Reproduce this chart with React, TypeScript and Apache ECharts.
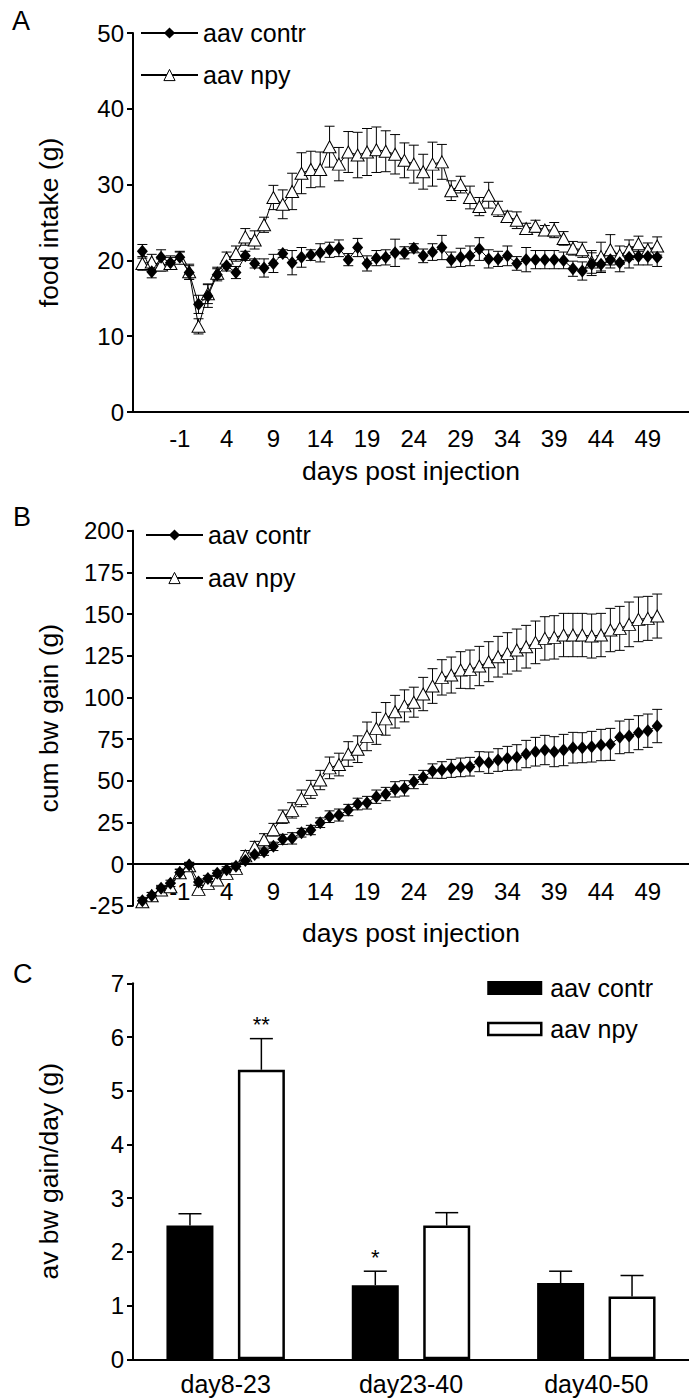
import React, { useEffect, useRef } from 'react';
import * as echarts from 'echarts';

// ---------- data ----------
const days = [-5, -4, -3, -2, -1, 0, 1, 2, 3, 4, 5, 6, 7, 8, 9, 10, 11, 12, 13, 14, 15, 16, 17, 18, 19, 20, 21, 22, 23, 24, 25, 26, 27, 28, 29, 30, 31, 32, 33, 34, 35, 36, 37, 38, 39, 40, 41, 42, 43, 44, 45, 46, 47, 48, 49, 50];
const xTickLabels = [-1, 4, 9, 14, 19, 24, 29, 34, 39, 44, 49];

// Panel A: food intake (g)
const foodContr = [21.2, 18.5, 20.4, 19.7, 20.4, 18.4, 14.2, 15.3, 18.1, 19.3, 18.4, 20.6, 19.6, 19.0, 19.6, 20.9, 19.7, 20.4, 20.7, 21.0, 21.4, 21.6, 20.1, 21.7, 19.6, 20.3, 20.4, 21.0, 21.0, 21.6, 20.6, 21.1, 21.7, 20.1, 20.4, 20.6, 21.5, 20.2, 20.2, 20.6, 19.6, 20.1, 20.1, 20.1, 20.1, 20.0, 18.9, 18.6, 19.5, 19.5, 20.1, 19.7, 20.4, 20.5, 20.5, 20.4];
const foodContrSem = [0.9, 0.8, 1.0, 0.9, 0.8, 0.9, 1.2, 1.5, 0.8, 0.7, 0.8, 0.6, 0.6, 1.2, 1.2, 0.5, 1.6, 1.3, 0.7, 1.2, 1.0, 1.1, 0.8, 1.2, 1.0, 1.0, 1.0, 1.8, 0.8, 0.6, 0.9, 1.1, 1.6, 1.0, 1.2, 1.3, 1.5, 1.2, 1.0, 1.3, 0.9, 1.6, 1.2, 1.2, 1.2, 1.1, 1.0, 1.2, 1.5, 1.1, 1.1, 1.2, 1.4, 1.1, 1.1, 1.2];
const foodNpy = [19.6, 19.8, 19.4, 19.6, 20.3, 18.5, 11.3, 15.6, 18.3, 20.3, 20.9, 23.1, 22.7, 24.7, 28.3, 27.4, 29.1, 31.5, 32.0, 32.0, 35.0, 32.7, 34.3, 33.9, 34.3, 34.6, 34.4, 34.0, 33.2, 32.7, 31.7, 32.7, 33.0, 29.2, 30.0, 28.3, 27.1, 28.6, 26.8, 25.8, 25.3, 24.2, 24.5, 24.0, 24.0, 22.9, 21.6, 21.4, 19.8, 20.5, 21.4, 20.7, 21.4, 22.2, 21.4, 21.9];
const foodNpySem = [0.9, 1.0, 0.8, 0.8, 0.8, 1.0, 1.0, 1.3, 0.8, 0.8, 1.0, 1.1, 1.2, 1.0, 1.6, 1.9, 2.4, 2.7, 2.4, 2.3, 2.7, 2.2, 2.7, 3.0, 3.1, 3.0, 2.7, 2.6, 2.3, 2.5, 2.3, 2.9, 2.3, 1.3, 1.1, 1.5, 1.2, 1.7, 1.0, 0.7, 1.1, 0.7, 0.8, 0.6, 1.0, 0.9, 0.9, 1.0, 1.5, 1.9, 2.0, 1.2, 1.3, 1.0, 0.9, 1.2];

// Panel B: cumulative body weight gain (g)
const gainContr = [-22.0, -18.9, -14.6, -11.6, -5.1, -0.6, -10.8, -8.7, -5.6, -3.4, -1.4, 2.1, 5.7, 7.4, 10.6, 14.8, 15.4, 18.8, 20.4, 24.8, 28.4, 29.4, 32.4, 36.0, 36.8, 40.4, 42.0, 44.8, 45.4, 49.4, 52.0, 55.8, 56.4, 57.4, 58.0, 58.4, 61.4, 60.8, 62.4, 63.4, 64.0, 66.0, 67.4, 68.4, 67.4, 68.4, 69.8, 69.8, 70.4, 71.4, 71.8, 76.0, 76.8, 78.8, 80.0, 82.8];
const gainContrSem = [2.0, 1.8, 1.8, 1.9, 1.8, 1.6, 1.8, 1.9, 1.8, 1.8, 1.9, 2.0, 2.0, 2.2, 2.5, 3.0, 3.4, 2.6, 2.8, 2.9, 3.5, 3.6, 3.4, 3.5, 3.8, 4.0, 4.0, 4.6, 4.6, 4.2, 4.2, 4.3, 5.0, 5.4, 5.6, 5.6, 6.0, 6.4, 6.8, 7.2, 7.6, 8.2, 8.6, 8.8, 9.0, 9.4, 9.2, 9.0, 9.2, 9.4, 9.6, 9.8, 10.0, 10.2, 10.0, 10.0];
const gainNpy = [-22.6, -19.0, -15.6, -13.6, -5.2, -1.0, -15.2, -11.6, -9.6, -5.6, -2.6, 4.9, 10.2, 14.6, 20.6, 28.4, 32.2, 39.4, 44.8, 50.4, 57.7, 59.7, 66.0, 68.9, 76.6, 81.4, 87.1, 91.4, 94.9, 97.1, 102.0, 106.8, 112.0, 113.4, 116.4, 116.8, 118.8, 121.4, 124.4, 126.4, 128.4, 130.4, 133.0, 135.4, 136.0, 137.4, 137.4, 137.4, 136.8, 137.4, 140.4, 141.4, 143.8, 146.8, 147.4, 148.8];
const gainNpySem = [2.2, 2.0, 2.0, 2.2, 2.2, 2.0, 2.4, 2.4, 2.6, 2.8, 3.0, 3.2, 3.4, 3.6, 3.8, 4.0, 4.6, 5.0, 5.4, 5.8, 6.5, 6.8, 7.4, 8.0, 8.6, 9.6, 9.8, 9.8, 9.6, 9.0, 10.0, 10.4, 10.6, 10.8, 11.0, 11.6, 11.8, 12.0, 12.2, 12.4, 12.6, 12.8, 12.8, 13.0, 13.0, 13.0, 13.0, 13.0, 13.2, 13.0, 13.0, 13.2, 13.4, 13.4, 13.2, 13.2];

// Panel C: average bw gain/day (g)
const periods = ['day8-23', 'day23-40', 'day40-50'];
const avgContr = [2.49, 1.38, 1.42];
const avgContrSem = [0.22, 0.26, 0.22];
const avgNpy = [5.39, 2.49, 1.17];
const avgNpySem = [0.58, 0.24, 0.39];
const sigContr = ['', '*', ''];
const sigNpy = ['**', '', ''];

const NAME_CONTR = 'aav contr';
const NAME_NPY = 'aav npy';

// ---------- styling ----------
const FONT = "'Liberation Sans', Arial, Helvetica, sans-serif";
const BLACK = '#000';
const TICK_FONT = 24;
const TITLE_FONT = 26.5;

function errorBars(xs: number[], ys: number[], es: number[], idx: number) {
  return {
    type: 'custom',
    xAxisIndex: idx,
    yAxisIndex: idx,
    z: 1,
    silent: true,
    data: xs.map((x, i) => [x, ys[i], es[i]]),
    encode: { x: 0, y: 1 },
    renderItem: (params: any, api: any) => {
      const x = api.value(0);
      const y = api.value(1);
      const e = api.value(2);
      const top = api.coord([x, y + e]);
      const bot = api.coord([x, y - e]);
      const hw = 5;
      const st = { stroke: BLACK, lineWidth: 1 };
      return {
        type: 'group',
        children: [
          { type: 'line', shape: { x1: top[0], y1: top[1], x2: bot[0], y2: bot[1] }, style: st },
          { type: 'line', shape: { x1: top[0] - hw, y1: top[1], x2: top[0] + hw, y2: top[1] }, style: st },
          { type: 'line', shape: { x1: bot[0] - hw, y1: bot[1], x2: bot[0] + hw, y2: bot[1] }, style: st },
        ],
      };
    },
  };
}

function barErrors(vals: number[], es: number[], sig: string[], offset: number) {
  return {
    type: 'custom',
    xAxisIndex: 2,
    yAxisIndex: 2,
    z: 3,
    silent: true,
    data: vals.map((v, i) => [i, v, es[i]]),
    encode: { x: 0, y: 1 },
    renderItem: (params: any, api: any) => {
      const i = api.value(0);
      const v = api.value(1);
      const e = api.value(2);
      const base = api.coord([i, v]);
      const top = api.coord([i, v + e]);
      const x = base[0] + offset;
      const st = { stroke: BLACK, lineWidth: 1.5 };
      const children: any[] = [
        { type: 'line', shape: { x1: x, y1: base[1], x2: x, y2: top[1] }, style: st },
        { type: 'line', shape: { x1: x - 11.5, y1: top[1], x2: x + 11.5, y2: top[1] }, style: st },
      ];
      const s = sig[params.dataIndex];
      if (s) {
        children.push({
          type: 'text',
          style: {
            text: s,
            x,
            y: top[1] - 3,
            align: 'center',
            verticalAlign: 'bottom',
            fontSize: 22,
            fontFamily: FONT,
            fill: BLACK,
          },
        });
      }
      return { type: 'group', children };
    },
  };
}

function lineSeries(name: string, idx: number, xs: number[], ys: number[], isNpy: boolean) {
  return {
    type: 'line',
    name,
    xAxisIndex: idx,
    yAxisIndex: idx,
    z: isNpy ? 2 : 3,
    data: xs.map((x, i) => [x, ys[i]]),
    showAllSymbol: true,
    symbol: isNpy ? 'triangle' : 'diamond',
    symbolSize: isNpy ? [13, 12] : [11, 13],
    lineStyle: { color: BLACK, width: 1 },
    itemStyle: isNpy
      ? { color: '#fff', borderColor: BLACK, borderWidth: 1 }
      : { color: BLACK, borderColor: BLACK, borderWidth: 0 },
    emphasis: { disabled: true },
    silent: true,
  };
}

function xValueAxis(idx: number, labelMargin: number, nameGap: number) {
  return {
    type: 'value',
    gridIndex: idx,
    min: -6,
    max: 53.4,
    axisLine: { show: true, onZero: true, lineStyle: { color: BLACK, width: 2 } },
    axisTick: { show: false },
    splitLine: { show: false },
    axisLabel: { customValues: xTickLabels, fontSize: TICK_FONT, color: BLACK, fontFamily: FONT, margin: labelMargin },
    name: 'days post injection',
    nameLocation: 'middle',
    nameGap,
    nameMoveOverlap: false,
    nameTextStyle: { fontSize: TITLE_FONT, color: BLACK, fontFamily: FONT },
  };
}

function yValueAxis(idx: number, min: number, max: number, interval: number, name: string) {
  return {
    type: 'value',
    gridIndex: idx,
    min,
    max,
    interval,
    axisLine: { show: true, onZero: false, lineStyle: { color: BLACK, width: 2 } },
    axisTick: { show: true, length: 6, lineStyle: { color: BLACK, width: 2 } },
    splitLine: { show: false },
    axisLabel: { fontSize: TICK_FONT, color: BLACK, fontFamily: FONT, margin: 9 },
    name,
    nameLocation: 'middle',
    nameGap: 71,
    nameMoveOverlap: false,
    nameTextStyle: { fontSize: TITLE_FONT, color: BLACK, fontFamily: FONT },
  };
}

const legendText = { fontSize: 25, color: BLACK, fontFamily: FONT, lineHeight: 26 };
const lineLegendData = [
  { name: NAME_CONTR, itemStyle: { color: BLACK, borderWidth: 0 } },
  { name: NAME_NPY, itemStyle: { color: '#fff', borderColor: BLACK, borderWidth: 1 } },
];

export default function App() {
  const ref = useRef<HTMLDivElement>(null);

  useEffect(() => {
    if (!ref.current) return;
    const chart = echarts.init(ref.current, undefined, { renderer: 'svg' });
    const option: any = {
      animation: false,
      backgroundColor: '#fff',
      textStyle: { fontFamily: FONT },
      grid: [
        { left: 133, top: 33, width: 556, height: 379 },
        { left: 133, top: 530.7, width: 556, height: 375 },
        { left: 133, top: 983.3, width: 562, height: 376 },
      ],
      xAxis: [
        xValueAxis(0, 14, 45),
        xValueAxis(1, -26, 14),
        {
          type: 'category',
          gridIndex: 2,
          data: periods,
          axisLine: { show: true, onZero: false, lineStyle: { color: BLACK, width: 2 } },
          axisTick: { show: false },
          splitLine: { show: false },
          axisLabel: { fontSize: 25, color: BLACK, fontFamily: FONT, margin: 12 },
        },
      ],
      yAxis: [
        yValueAxis(0, 0, 50, 10, 'food intake (g)'),
        yValueAxis(1, -25, 200, 25, 'cum bw gain (g)'),
        yValueAxis(2, 0, 7, 1, 'av bw gain/day (g)'),
      ],
      legend: [
        {
          orient: 'vertical', left: 140, top: 20, padding: 0, itemGap: 16,
          itemWidth: 57, itemHeight: 14, selectedMode: false,
          textStyle: legendText, data: lineLegendData,
        },
        {
          orient: 'vertical', left: 145, top: 522, padding: 0, itemGap: 17,
          itemWidth: 57, itemHeight: 14, selectedMode: false,
          textStyle: legendText, data: lineLegendData,
        },
        {
          orient: 'vertical', left: 487, top: 975, padding: 0, itemGap: 15,
          itemWidth: 53, itemHeight: 12, selectedMode: false,
          textStyle: { ...legendText, padding: [0, 0, 0, 4] },
          data: [
            { name: NAME_CONTR, icon: 'rect', itemStyle: { color: BLACK, borderColor: BLACK, borderWidth: 2 } },
            { name: NAME_NPY, icon: 'rect', itemStyle: { color: '#fff', borderColor: BLACK, borderWidth: 2.5 } },
          ],
        },
      ],
      graphic: [
        { type: 'text', left: 12, top: 7, style: { text: 'A', fontSize: 27, fontFamily: FONT, fill: BLACK } },
        { type: 'text', left: 13, top: 503, style: { text: 'B', fontSize: 27, fontFamily: FONT, fill: BLACK } },
        { type: 'text', left: 13, top: 960, style: { text: 'C', fontSize: 27, fontFamily: FONT, fill: BLACK } },
      ],
      series: [
        lineSeries(NAME_NPY, 0, days, foodNpy, true),
        lineSeries(NAME_CONTR, 0, days, foodContr, false),
        errorBars(days, foodNpy, foodNpySem, 0),
        errorBars(days, foodContr, foodContrSem, 0),

        lineSeries(NAME_NPY, 1, days, gainNpy, true),
        lineSeries(NAME_CONTR, 1, days, gainContr, false),
        errorBars(days, gainNpy, gainNpySem, 1),
        errorBars(days, gainContr, gainContrSem, 1),

        {
          type: 'bar',
          name: NAME_CONTR,
          xAxisIndex: 2,
          yAxisIndex: 2,
          data: avgContr,
          barWidth: 47,
          barGap: '52%',
          itemStyle: { color: BLACK, borderColor: BLACK, borderWidth: 2 },
          emphasis: { disabled: true },
          silent: true,
          z: 2,
        },
        {
          type: 'bar',
          name: NAME_NPY,
          xAxisIndex: 2,
          yAxisIndex: 2,
          data: avgNpy,
          barWidth: 47,
          barGap: '52%',
          itemStyle: { color: '#fff', borderColor: BLACK, borderWidth: 2.5 },
          emphasis: { disabled: true },
          silent: true,
          z: 2,
        },
        barErrors(avgContr, avgContrSem, sigContr, -35.7),
        barErrors(avgNpy, avgNpySem, sigNpy, 35.7),
      ],
    };
    chart.setOption(option);
    return () => chart.dispose();
  }, []);

  return (
    <div
      ref={ref}
      style={{ position: 'absolute', left: 0, top: 0, width: 689, height: 1399, background: '#fff' }}
    />
  );
}
